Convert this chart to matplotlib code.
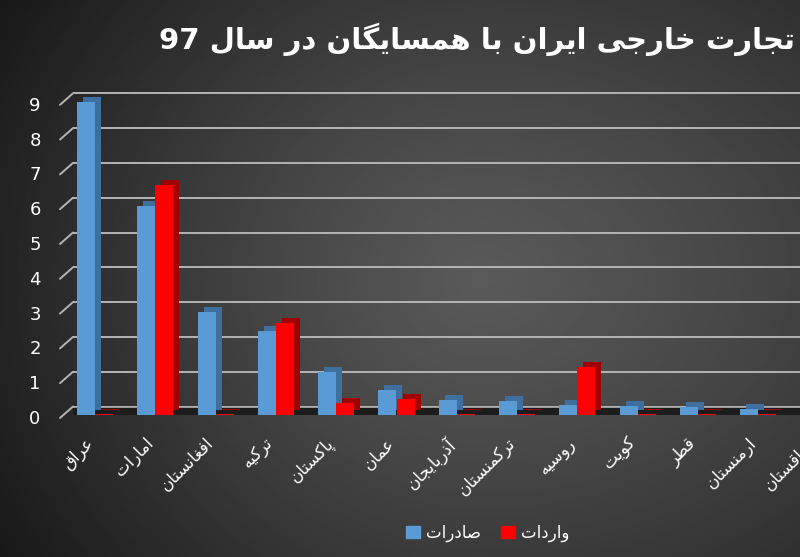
import re
import numpy as np
import matplotlib
matplotlib.use("Agg")
import matplotlib.pyplot as plt
from matplotlib.patches import Patch
from matplotlib.transforms import offset_copy

# data (billion dollars, year 1397)
countries = ['عراق', 'امارات', 'افغانستان', 'ترکیه', 'پاکستان', 'عمان', 'آذربایجان',
             'ترکمنستان', 'روسیه', 'کویت', 'قطر', 'ارمنستان', 'قزاقستان']
exports = [9.0, 6.0, 2.95, 2.4, 1.25, 0.73, 0.42, 0.4, 0.28, 0.27, 0.23, 0.16, 0.12]
imports = [0.04, 6.6, 0.03, 2.65, 0.35, 0.45, 0.04, 0.03, 1.38, 0.04, 0.03, 0.03, 0.03]
yticks = [0, 1, 2, 3, 4, 5, 6, 7, 8, 9]
title = 'تجارت خارجی ایران با همسایگان در سال 97'
legend_labels = ['صادرات', 'واردات']

# matplotlib has no arabic shaping, so map letters to presentation forms by hand
FORMS = {
    'ا': (0xFE8D, 0xFE8E, None, None), 'آ': (0xFE81, 0xFE82, None, None),
    'ب': (0xFE8F, 0xFE90, 0xFE91, 0xFE92), 'پ': (0xFB56, 0xFB57, 0xFB58, 0xFB59),
    'ت': (0xFE95, 0xFE96, 0xFE97, 0xFE98), 'ج': (0xFE9D, 0xFE9E, 0xFE9F, 0xFEA0),
    'چ': (0xFB7A, 0xFB7B, 0xFB7C, 0xFB7D), 'خ': (0xFEA5, 0xFEA6, 0xFEA7, 0xFEA8),
    'د': (0xFEA9, 0xFEAA, None, None), 'ذ': (0xFEAB, 0xFEAC, None, None),
    'ر': (0xFEAD, 0xFEAE, None, None), 'ز': (0xFEAF, 0xFEB0, None, None),
    'س': (0xFEB1, 0xFEB2, 0xFEB3, 0xFEB4), 'ص': (0xFEB9, 0xFEBA, 0xFEBB, 0xFEBC),
    'ط': (0xFEC1, 0xFEC2, 0xFEC3, 0xFEC4), 'ع': (0xFEC9, 0xFECA, 0xFECB, 0xFECC),
    'غ': (0xFECD, 0xFECE, 0xFECF, 0xFED0), 'ف': (0xFED1, 0xFED2, 0xFED3, 0xFED4),
    'ق': (0xFED5, 0xFED6, 0xFED7, 0xFED8), 'ک': (0xFB8E, 0xFB8F, 0xFB90, 0xFB91),
    'گ': (0xFB92, 0xFB93, 0xFB94, 0xFB95), 'ل': (0xFEDD, 0xFEDE, 0xFEDF, 0xFEE0),
    'م': (0xFEE1, 0xFEE2, 0xFEE3, 0xFEE4), 'ن': (0xFEE5, 0xFEE6, 0xFEE7, 0xFEE8),
    'ه': (0xFEE9, 0xFEEA, 0xFEEB, 0xFEEC), 'و': (0xFEED, 0xFEEE, None, None),
    'ی': (0xFBFC, 0xFBFD, 0xFBFE, 0xFBFF),
}
LAMALEF = {'ا': (0xFEFB, 0xFEFC), 'آ': (0xFEF5, 0xFEF6)}


def shape(s):
    out = []
    i = 0
    while i < len(s):
        c = s[i]
        if c not in FORMS:
            out.append(c)
            i += 1
            continue
        prev = s[i - 1] if i > 0 else None
        jp = prev in FORMS and FORMS[prev][2] is not None
        if c == 'ل' and i + 1 < len(s) and s[i + 1] in LAMALEF:
            lig = LAMALEF[s[i + 1]]
            out.append(chr(lig[1] if jp else lig[0]))
            i += 2
            continue
        nxt = s[i + 1] if i + 1 < len(s) else None
        jn = FORMS[c][2] is not None and nxt in FORMS
        iso, fin, ini, med = FORMS[c]
        f = med if (jp and jn) else fin if jp else ini if jn else iso
        out.append(chr(f))
        i += 1
    return ''.join(out)


def rtl(s):
    d = shape(s)[::-1]
    return re.sub('[0-9]+', lambda m: m.group(0)[::-1], d)


plt.rcParams['font.family'] = ['DejaVu Sans']

W, H = 800, 557
fig = plt.figure(figsize=(W / 100, H / 100), dpi=100)

# dark radial background
bg = fig.add_axes([0, 0, 1, 1], zorder=-10)
gx, gy = np.meshgrid(np.linspace(0, 1, 400), np.linspace(0, 1, 280))
sx = np.where(gx < 0.6, 0.6, 0.8)
r = np.sqrt(((gx - 0.6) / sx) ** 2 + ((gy - 0.5) / 0.8) ** 2)
grad = np.clip(0.35 - 0.21 * r ** 1.2, 0, 1)
bg.imshow(grad, cmap='gray', vmin=0, vmax=1, aspect='auto', extent=[0, 1, 0, 1])
bg.axis('off')

# main axes; runs past the right edge so the last country is cut like the original
step = 60.3
left_px, right_px, base_px, unit = 73, 830, 415, 34.8
ymax = 9.5
ax = fig.add_axes([left_px / W, 1 - base_px / H, (right_px - left_px) / W, ymax * unit / H])
ax.set_facecolor('none')
ax.set_xlim(-(95 - left_px) / step, (right_px - 95) / step)
ax.set_ylim(0, ymax)
for s in ax.spines.values():
    s.set_visible(False)
ax.set_xticks([])
ax.set_yticks([])

x = np.arange(len(countries))
w = 0.3

# back wall gridlines (shifted up for the 3d look) and slanted ticks
back = offset_copy(ax.get_yaxis_transform(), fig=fig, x=0, y=8.5, units='dots')
ylab = offset_copy(ax.get_yaxis_transform(), fig=fig, x=-38, y=-4, units='dots')
for v in yticks:
    ax.plot([0, 1], [v, v], color='#b4b4b4', lw=1.4, transform=back, zorder=1)
    ax.annotate('', xy=(0, v), xycoords=back, xytext=(-13, -11.5), textcoords='offset pixels',
                arrowprops=dict(arrowstyle='-', color='#b4b4b4', lw=1.4, shrinkA=0, shrinkB=0))
    ax.text(0, v, str(v), transform=ylab, ha='center', va='center', color='white', fontsize=13)

# dark floor
floor = offset_copy(ax.get_yaxis_transform(), fig=fig, x=0, y=3, units='dots')
ax.plot([-0.02, 1], [0, 0], color='#1c1c1c', lw=6, transform=floor, zorder=1, solid_capstyle='butt')

# bars: darker copy shifted up-right gives side and top faces
side = offset_copy(ax.transData, fig=fig, x=6, y=5, units='dots')
ax.bar(x - w / 2, exports, w, color='#3f6f9f', transform=side, zorder=2)
ax.bar(x + w / 2, imports, w, color='#a00000', transform=side, zorder=2)
ax.bar(x - w / 2, exports, w, color='#5b9bd5', zorder=3)
ax.bar(x + w / 2, imports, w, color='#ff0000', zorder=3)

# country names, slanted under each group
xlab = offset_copy(ax.get_xaxis_transform(), fig=fig, x=-11, y=-19, units='dots')
for xi, c in zip(x, countries):
    ax.text(xi, 0, rtl(c), transform=xlab, rotation=45, ha='right', va='top',
            rotation_mode='anchor', color='white', fontsize=12, clip_on=False)

fig.text(795 / W, 1 - 39 / H, rtl(title), ha='right', va='center', color='white',
         fontsize=21, fontweight='bold')

handles = [Patch(color='#5b9bd5'), Patch(color='#ff0000')]
leg = fig.legend(handles, [rtl(t) for t in legend_labels], loc='center', bbox_to_anchor=(0.61, 0.043),
                 ncol=2, frameon=False, fontsize=12, handlelength=0.8, handleheight=0.8,
                 handletextpad=0.4, columnspacing=1.2)
for t in leg.get_texts():
    t.set_color('white')

fig.savefig('out.png', dpi=100)
